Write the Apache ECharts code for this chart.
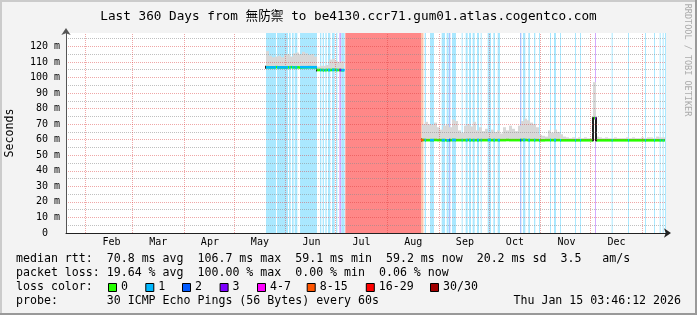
<!DOCTYPE html>
<html><head><meta charset="utf-8">
<script src="https://cdn.jsdelivr.net/npm/echarts@6/dist/echarts.min.js"></script>
<style>html,body{margin:0;padding:0;background:#f3f3f3;overflow:hidden}#c{width:697px;height:315px}</style>
</head><body><div id="c"></div>
<script>
// ================= DATA =================
// x values are days since the start of the 360-day window (Jan 20 2025 03:46:12 UTC)
const START_MS = Date.UTC(2025, 0, 20, 3, 46, 12);
const RANGE_DAYS = 360;
const Y_MAX = 128.6;
const monthNames = ['Feb','Mar','Apr','May','Jun','Jul','Aug','Sep','Oct','Nov','Dec'];
const monthStartDates = ['2025-02-01','2025-03-01','2025-04-01','2025-05-01','2025-06-01','2025-07-01',
  '2025-08-01','2025-09-01','2025-10-01','2025-11-01','2025-12-01','2026-01-01'];
const yTickValues = [0,10,20,30,40,50,60,70,80,90,100,110,120];
const yMinorValues = [5,15,25,35,45,55,65,75,85,95,105,115,125];

const STEP = 1.8; // days per sample
const seg1Start = 120.0;
const seg1Median   = [106.6,106.5,106.5,106.6,106.5,106.5,106.4,106.5,106.6,106.5,106.5,106.4,106.5,106.5,106.6,106.5,106.5];
const seg1SmokeTop = [117.0,114.0,113.0,113.5,114.0,113.0,114.5,115.0,113.5,115.5,116.0,115.0,116.5,115.5,114.5,115.0,113.5];
const seg2Start = 150.6;
const seg2Median   = [104.8,104.8,104.7,104.8,104.8,104.9,104.8,104.8,104.7];
const seg2SmokeTop = [107.0,107.5,107.5,108.0,111.5,112.0,110.5,110.0,110.5];
const seg3Start = 213.6;
const seg3Median = [
  59.8,59.7,59.7,59.7,59.8,59.7,59.7,59.7,59.6,59.7,
  59.8,59.7,59.7,59.7,59.7,59.8,59.7,59.7,59.7,59.7,
  59.7,59.7,59.8,59.7,59.7,59.7,59.7,59.7,59.8,59.7,
  59.7,59.7,59.7,59.8,59.8,59.7,59.7,59.7,59.7,59.6,
  59.6,59.7,59.7,59.7,59.7,59.7,59.6,59.6,59.6,59.6,
  59.6,59.6,59.6,59.6,59.6,59.6,59.6,73.8,59.6,59.6,
  59.6,59.6,59.6,59.6,59.6,59.6,59.6,59.6,59.6,59.6,
  59.6,59.6,59.6,59.6,59.6,59.6,59.6,59.6,59.6,59.6,59.6];
const seg3SmokeTop = [
  70,71.5,70,69.5,71,68,66.5,69,69.5,68,
  73,72,66,64.5,69,70,68.5,71.5,66,68,
  65.5,67,64.5,66.5,65,66,64,68,66,69,
  67,65.5,69,72,73.5,72.5,71,70,68,63,
  62.5,62,66,64.5,66.5,65,63.5,62,61.5,61,
  61.5,61,61.5,61,61.5,61,61,97,62,61.5,
  61,61.5,61,61,61.5,61,61,61,61.5,61,
  61.5,61,61,61.5,61,61.5,61.5,61,62,61.5,61.5];

// loss bands: [startDay, endDay, lossLevelIndex]
const lossBands = [
  [120.0,126.0,1],[126.6,133.2,1],[133.8,134.8,1],[135.6,136.6,1],[137.2,138.8,1],[140.4,150.6,1],
  [152.4,153.2,1],[154.0,154.8,1],[155.6,156.4,1],[157.2,158.6,1],[159.6,161.2,1],[162.0,162.8,1],
  [164.0,165.2,3],[165.2,167.2,1],[167.6,213.0,7],[213.0,214.5,5],
  [215.2,216.0,1],[218.4,220.8,1],[225.4,227.4,1],[228.4,229.6,1],[229.8,230.6,2],[231.6,234.0,1],
  [237.4,238.0,1],[239.8,241.0,1],[241.8,243.0,1],[244.0,245.2,1],[246.6,247.8,1],[248.8,249.4,1],
  [253.0,255.0,1],[256.4,257.4,1],[259.0,260.4,1],[272.4,273.2,2],[274.2,275.6,1],[277.4,278.4,1],
  [280.8,281.6,1],[283.8,284.4,1],[290.4,291.0,1],[292.8,294.0,1],[296.4,297.0,1],[305.4,306.0,1],
  [308.4,309.0,1],[317.4,318.0,3],[327.4,328.0,1],[337.2,337.8,1],[347.4,348.0,1],[352.8,353.4,1],
  [356.2,356.8,1],[358.0,358.6,1],[359.4,360.0,1]];

const lossLabels = ['0','1','2','3','4-7','8-15','16-29','30/30'];
const lossColors = ['#26ff00','#00b8ff','#0059ff','#7e00ff','#ff00ff','#ff5500','#ff0000','#a00000'];
const lossBgColors = ['#ffffff','#aae8ff','#aac4ff','#d4aaff','#ffaaff','#ffc6aa','#ffaaaa','#ff8888'];

const statLines = [
  'median rtt:  70.8 ms avg  106.7 ms max  59.1 ms min  59.2 ms now  20.2 ms sd  3.5   am/s',
  'packet loss: 19.64 % avg  100.00 % max  0.00 % min  0.06 % now'
];
const probeText = 'probe:       30 ICMP Echo Pings (56 Bytes) every 60s';
const dateText = 'Thu Jan 15 03:46:12 2026';
const titleText = 'Last 360 Days from 無防禦 to be4130.ccr71.gum01.atlas.cogentco.com';

// ================= BUILD =================
const DAY = 86400000;
const monthStarts = monthStartDates.map(s => (Date.parse(s + 'T00:00:00Z') - START_MS) / DAY);
const monthLabelDays = monthStarts.slice(0, monthNames.length).map(d => d + 15.5);

const segments = [
  {start: seg1Start, med: seg1Median, top: seg1SmokeTop},
  {start: seg2Start, med: seg2Median, top: seg2SmokeTop},
  {start: seg3Start, med: seg3Median, top: seg3SmokeTop}
];
const samples = []; // [d0, d1, median, top, prevMedian]
segments.forEach(seg => {
  seg.med.forEach((m, i) => {
    const d0 = seg.start + i * STEP;
    samples.push([d0, d0 + STEP, m, seg.top[i], i === 0 ? -1 : seg.med[i - 1]]);
  });
});
function medianAt(day) {
  for (const s of samples) if (day >= s[0] - 1e-9 && day < s[1]) return s[2];
  return null;
}
const overlay = [];
lossBands.forEach(b => {
  const m = medianAt((b[0] + b[1]) / 2);
  if (m !== null) overlay.push([b[0], b[1], m, b[2]]);
});

const MONO = "'DejaVu Sans Mono', 'Noto Sans CJK TC', monospace";
const LINE_H = 2.6;

function bandItem(params, api) {
  const a = api.coord([api.value(0), 0]);
  const b = api.coord([api.value(1), 0]);
  const cs = params.coordSys;
  return {type: 'rect', shape: {x: a[0], y: cs.y, width: b[0] - a[0], height: cs.height},
    style: {fill: lossBgColors[api.value(2)]}};
}
function smokeItem(params, api) {
  const a = api.coord([api.value(0), api.value(3)]);
  const b = api.coord([api.value(1), api.value(2)]);
  return {type: 'rect', shape: {x: a[0], y: a[1], width: b[0] - a[0], height: b[1] - a[1]},
    style: {fill: '#d8d8d8'}};
}
function medianItem(params, api) {
  const a = api.coord([api.value(0), api.value(2)]);
  const b = api.coord([api.value(1), api.value(2)]);
  const children = [{type: 'rect', shape: {x: a[0], y: a[1] - LINE_H / 2, width: b[0] - a[0], height: LINE_H},
    style: {fill: lossColors[0]}}];
  const prev = api.value(4);
  if (prev < 0) {
    children.push({type: 'rect', shape: {x: a[0] - 1, y: a[1] - 1.5, width: 1, height: 3}, style: {fill: '#222'}});
  } else if (Math.abs(prev - api.value(2)) > 0.5) {
    const p = api.coord([api.value(0), prev]);
    children.push({type: 'rect', shape: {x: a[0] - 1, y: Math.min(a[1], p[1]) - 1, width: 2,
      height: Math.abs(a[1] - p[1]) + 2}, style: {fill: '#222'}});
  }
  return {type: 'group', children};
}
function overlayItem(params, api) {
  const a = api.coord([api.value(0), api.value(2)]);
  const b = api.coord([api.value(1), api.value(2)]);
  return {type: 'rect', shape: {x: a[0], y: a[1] - LINE_H / 2, width: Math.max(1, b[0] - a[0]), height: LINE_H},
    style: {fill: lossColors[api.value(3)]}};
}

const gridLines = [];
yMinorValues.forEach(v => gridLines.push({yAxis: v, lineStyle: {color: 'rgba(140,140,140,0.55)', type: [1, 1], width: 1}}));
yTickValues.slice(1).forEach(v => gridLines.push({yAxis: v, lineStyle: {color: 'rgba(220,60,60,0.45)', type: [1, 1], width: 1}}));
monthStarts.forEach(v => gridLines.push({xAxis: v, lineStyle: {color: 'rgba(220,60,60,0.45)', type: [1, 1], width: 1}}));

const graphics = [];
graphics.push({type: 'rect', shape: {x: 0, y: 0, width: 697, height: 2}, style: {fill: '#cbcbcb'}, silent: true});
graphics.push({type: 'rect', shape: {x: 0, y: 0, width: 2, height: 315}, style: {fill: '#cbcbcb'}, silent: true});
graphics.push({type: 'rect', shape: {x: 695, y: 0, width: 2, height: 315}, style: {fill: '#999999'}, silent: true});
graphics.push({type: 'rect', shape: {x: 0, y: 313, width: 697, height: 2}, style: {fill: '#999999'}, silent: true});
statLines.forEach((t, i) => graphics.push({type: 'text', x: 16, y: 259 + i * 14,
  style: {text: t, font: '11.6px ' + MONO, fill: '#000', textVerticalAlign: 'middle'}, silent: true}));
graphics.push({type: 'text', x: 16, y: 287, style: {text: 'loss color:', font: '11.6px ' + MONO, fill: '#000', textVerticalAlign: 'middle'}});
const swatchX = [108, 145.3, 182, 219.6, 257, 306.7, 365.8, 430];
lossLabels.forEach((l, i) => {
  graphics.push({type: 'rect', shape: {x: swatchX[i] + 0.5, y: 283.5, width: 8, height: 8},
    style: {fill: lossColors[i], stroke: '#000', lineWidth: 1}, silent: true});
  graphics.push({type: 'text', x: swatchX[i] + 13, y: 287,
    style: {text: l, font: '11.6px ' + MONO, fill: '#000', textVerticalAlign: 'middle'}, silent: true});
});
graphics.push({type: 'text', x: 16, y: 301, style: {text: probeText, font: '11.6px ' + MONO, fill: '#000', textVerticalAlign: 'middle'}});
graphics.push({type: 'text', x: 681, y: 301, style: {text: dateText, font: '11.6px ' + MONO, fill: '#000', textAlign: 'right', textVerticalAlign: 'middle'}});
graphics.push({type: 'text', x: 687, y: 60, rotation: -Math.PI / 2,
  style: {text: 'RRDTOOL / TOBI OETIKER', font: '8.5px ' + MONO, fill: '#aaaaaa', textAlign: 'center', textVerticalAlign: 'middle'}});
graphics.push({type: 'text', x: 10, y: 133, rotation: Math.PI / 2,
  style: {text: 'Seconds', font: '11.6px ' + MONO, fill: '#000', textAlign: 'center', textVerticalAlign: 'middle'}});

const option = {
  backgroundColor: '#f3f3f3',
  animation: false,
  title: {text: titleText, left: 'center', top: 5,
    textStyle: {fontFamily: MONO, fontSize: 12.7, fontWeight: 'normal', color: '#000'}},
  grid: {left: 66, top: 33, width: 600, height: 200, show: true, backgroundColor: '#ffffff', borderWidth: 0,
    containLabel: false, outerBoundsMode: 'none'},
  xAxis: {type: 'value', min: 0, max: RANGE_DAYS, z: 6,
    axisLine: {show: true, onZero: false, symbol: ['none', 'arrow'], symbolSize: [7, 7], symbolOffset: [0, 5],
      lineStyle: {color: '#222', width: 1}},
    axisTick: {show: false}, splitLine: {show: false},
    axisLabel: {customValues: monthLabelDays, margin: 4, fontFamily: MONO, fontSize: 10, color: '#000',
      formatter: v => { const i = monthLabelDays.findIndex(x => Math.abs(x - v) < 1e-6); return i >= 0 ? monthNames[i] : ''; }}},
  yAxis: {type: 'value', min: 0, max: Y_MAX, interval: 10, z: 6,
    axisLine: {show: true, symbol: ['none', 'arrow'], symbolSize: [7, 7], symbolOffset: [0, 5],
      lineStyle: {color: '#555', width: 1}},
    axisTick: {show: false}, splitLine: {show: false},
    axisLabel: {customValues: yTickValues, margin: 6, fontFamily: MONO, fontSize: 10, color: '#000',
      formatter: v => v > 120.5 ? '' : (v === 0 ? '0  ' : v + ' m')}},
  graphic: graphics,
  series: [
    {type: 'custom', name: 'lossbg', z: 1, silent: true, clip: true, renderItem: bandItem,
      encode: {x: [0, 1]}, data: lossBands},
    {type: 'custom', name: 'smoke', z: 2, silent: true, clip: true, renderItem: smokeItem,
      encode: {x: [0, 1], y: [2, 3]}, data: samples},
    {type: 'line', name: 'grid', z: 3, silent: true, data: [],
      markLine: {symbol: 'none', silent: true, animation: false, label: {show: false}, data: gridLines}},
    {type: 'custom', name: 'median', z: 4, silent: true, clip: true, renderItem: medianItem,
      encode: {x: [0, 1], y: 2}, data: samples},
    {type: 'custom', name: 'medianloss', z: 5, silent: true, clip: true, renderItem: overlayItem,
      encode: {x: [0, 1], y: 2}, data: overlay}
  ]
};
const chart = echarts.init(document.getElementById('c'), null, {renderer: 'canvas', width: 697, height: 315});
chart.setOption(option);
</script></body></html>
